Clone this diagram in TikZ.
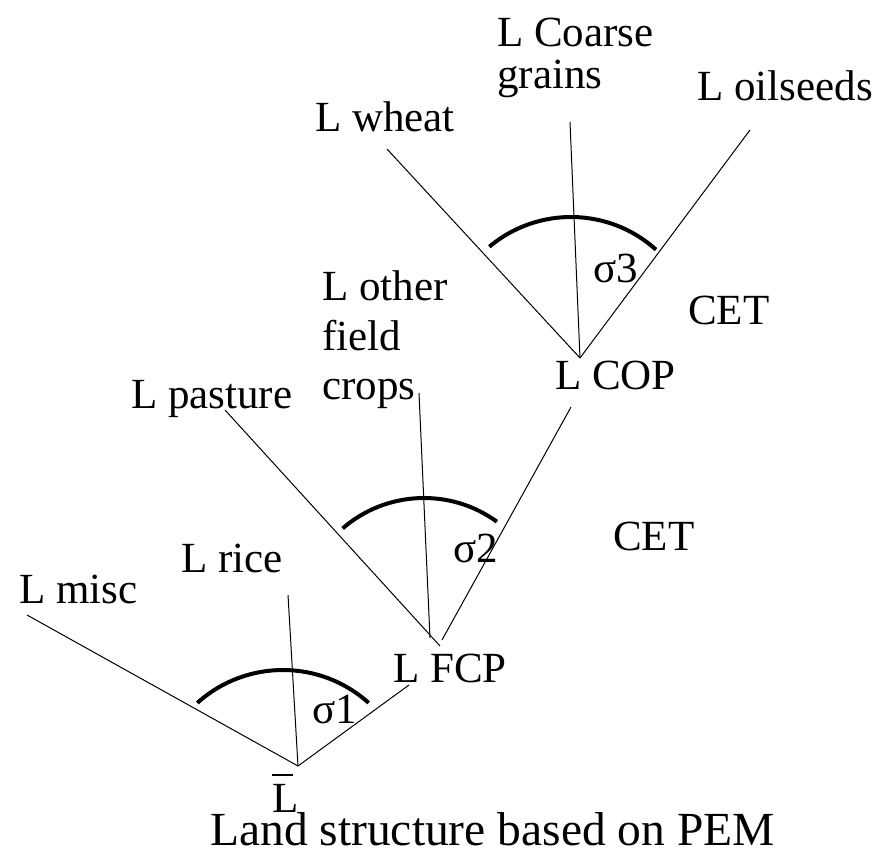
\documentclass[tikz,border=0pt]{standalone}
\usepackage{fontspec}
\setmainfont{Liberation Serif}
\begin{document}
\begin{tikzpicture}[x=1pt,y=1pt,
  lbl/.style={anchor=base west,inner sep=0pt,font=\fontsize{43}{50}\selectfont},
  caplbl/.style={anchor=base west,inner sep=0pt,font=\fontsize{47.5}{55}\selectfont},
  thin/.style={line width=1pt,black},
  sigarc/.style={line width=4pt,black}]
\useasboundingbox (0,0) rectangle (876,-848);
% vertices and line ends
\coordinate (V1) at (298,-766);
\coordinate (miscE) at (27,-615);
\coordinate (riceE) at (288,-595);
\coordinate (fcpE) at (409,-685);
\coordinate (V2a) at (440,-646);
\coordinate (V2b) at (430,-638);
\coordinate (V2c) at (442,-640);
\coordinate (pastE) at (225,-410);
\coordinate (othE) at (419,-393);
\coordinate (copE) at (571,-407);
\coordinate (V3) at (580,-358);
\coordinate (wheatE) at (387,-149);
\coordinate (coarseE) at (570,-122);
\coordinate (oilE) at (750,-130);
% arc centres
\coordinate (C1) at (283,-798);
\coordinate (C2) at (424,-622);
\coordinate (C3) at (571,-344);
% labels
\node[lbl] (misc) at (19,-603) {L misc};
\node[lbl] (rice) at (181,-572) {L rice};
\node[lbl] (s1) at (312,-723) {σ1};
\node[lbl] (fcp) at (393,-682) {L FCP};
\node[lbl] (s2) at (453,-562) {σ2};
\node[lbl] (cet1) at (613,-550) {CET};
\node[lbl] (past) at (131,-408) {L pasture};
\node[lbl] (oth1) at (322,-300) {L other};
\node[lbl] (oth2) at (322,-350) {field};
\node[lbl] (oth3) at (322,-399) {crops};
\node[lbl] (cop) at (555,-389) {L COP};
\node[lbl] (cet2) at (688,-324) {CET};
\node[lbl] (s3) at (593,-282) {σ3};
\node[lbl] (wheat) at (315,-132) {L wheat};
\node[lbl] (coar1) at (497,-47) {L Coarse};
\node[lbl] (coar2) at (497,-89) {grains};
\node[lbl] (oil) at (697,-101) {L oilseeds};
\node[lbl] (lbar) at (272,-812) {\rlap{\rule[36pt]{21pt}{2pt}}L};
\node[caplbl] (cap) at (210,-845) {Land structure based on PEM};
% lines
\draw[thin] (miscE) -- (V1);
\draw[thin] (riceE) -- (V1);
\draw[thin] (fcpE) -- (V1);
\draw[thin] (pastE) -- (V2a);
\draw[thin] (othE) -- (V2b);
\draw[thin] (copE) -- (V2c);
\draw[thin] (wheatE) -- (V3);
\draw[thin] (coarseE) -- (V3);
\draw[thin] (oilE) -- (V3);
% arcs
\draw[sigarc] (C1) ++(48:128) arc[start angle=48,end angle=132,radius=128];
\draw[sigarc] (C2) ++(54:124) arc[start angle=54,end angle=131,radius=124];
\draw[sigarc] (C3) ++(48:127) arc[start angle=48,end angle=130,radius=127];
\end{tikzpicture}
\end{document}
